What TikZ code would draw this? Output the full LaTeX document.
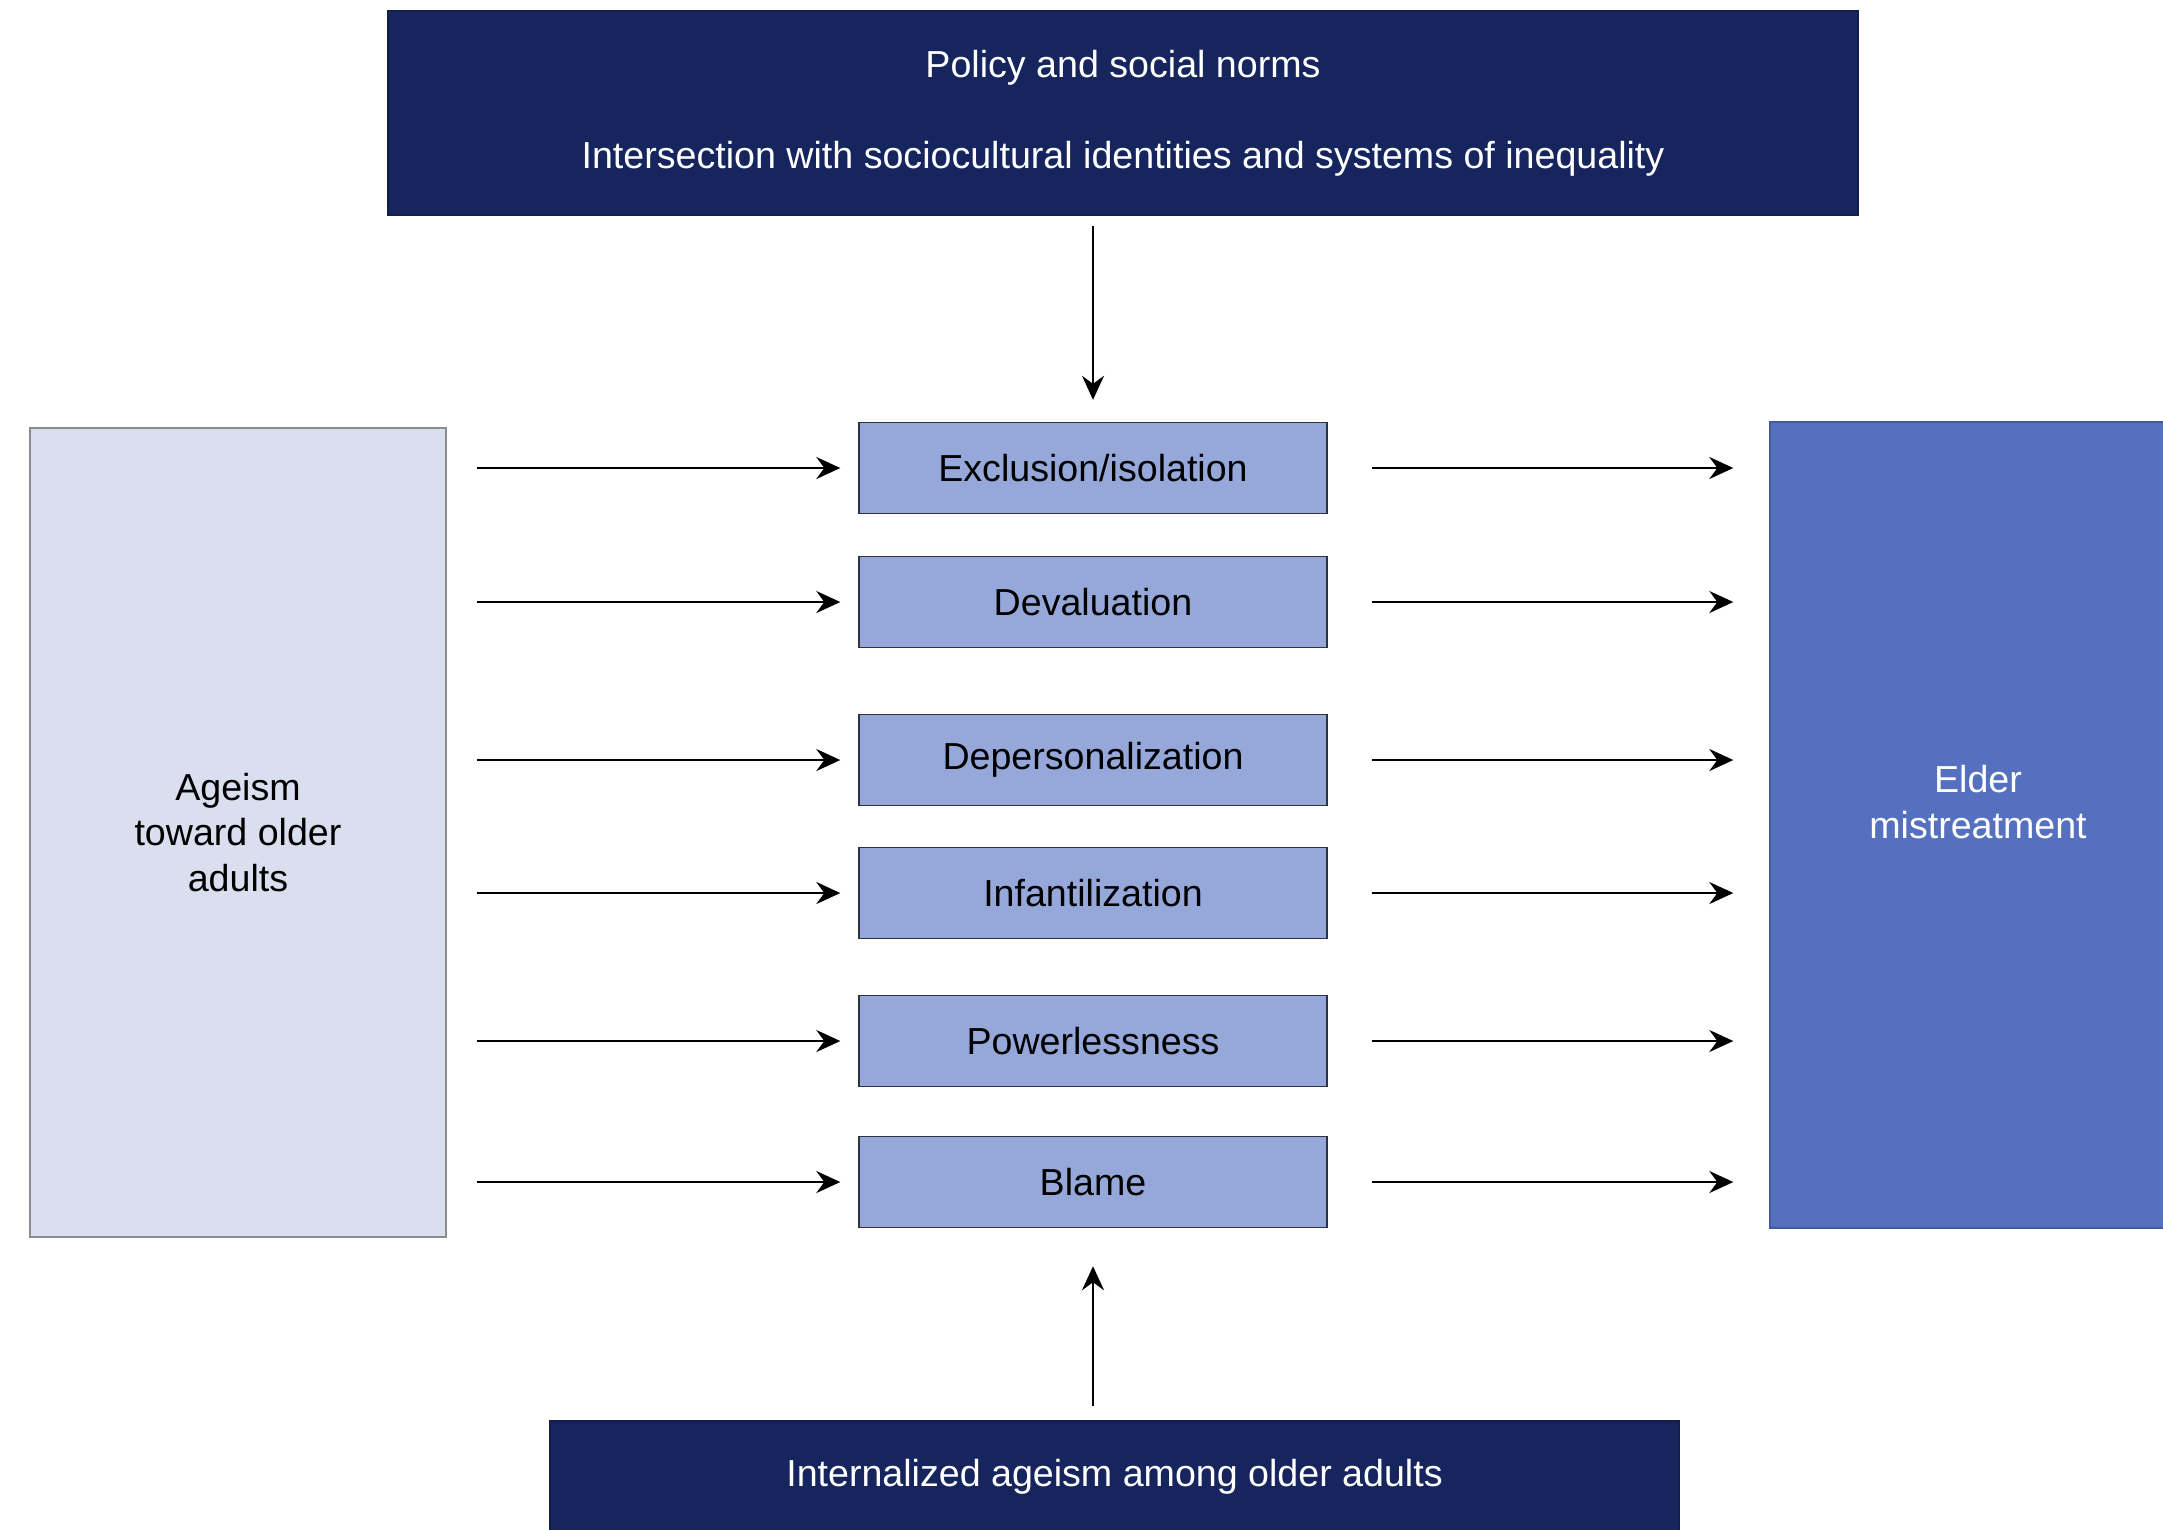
\documentclass[tikz,border=0pt]{standalone}
\usepackage{fontspec}
\setmainfont{Liberation Sans}
\usepackage{tikz}
\usetikzlibrary{positioning,calc,arrows.meta}

\definecolor{navy}{RGB}{23,37,94}
\definecolor{midblue}{RGB}{149,168,217}
\definecolor{deepblue}{RGB}{86,112,192}
\definecolor{paleblue}{RGB}{217,223,239}

\tikzset{
  darkbox/.style={draw=navy!80!black, fill=navy, text=white, inner sep=0pt},
  midbox/.style={draw=black!70!midblue, fill=midblue, minimum width=4.68cm,
    minimum height=0.91cm, inner sep=0pt},
  arr/.style={line width=0.75pt, -{Stealth[length=2.4mm,width=2.2mm,inset=0.8mm]}}
}

\begin{document}
\begin{tikzpicture}[font=\fontsize{10.7}{13}\selectfont]

\useasboundingbox (0,0) rectangle (21.63,-15.29);
\fill[white] (0,0) rectangle (21.63,-15.29);

% top and bottom bars
\node[darkbox, minimum width=14.70cm, minimum height=2.04cm, align=center]
  (policy) at (11.23,-1.13)
  {Policy and social norms\\[0.45cm]Intersection with sociocultural identities and systems of inequality};
\node[darkbox, minimum width=11.29cm, minimum height=1.12cm]
  (internal) at (11.145,-14.77) {Internalized ageism among older adults};

% side boxes
\node[draw=black!45, fill=paleblue, minimum width=4.16cm, minimum height=8.09cm,
  inner sep=0pt, align=center] (ageism) at (2.38,-8.325)
  {Ageism\\toward older\\adults};
\node[draw=deepblue!80!black, fill=deepblue, minimum width=4.20cm, minimum height=8.06cm,
  inner sep=0pt] (elder) at (19.80,-8.25) {};
\node[text=white, align=center] (eldertxt) at (19.78,-8.02) {Elder\\mistreatment};

% middle column
\node[midbox] (excl)  at (10.93,-4.68)  {Exclusion/isolation};
\node[midbox] (deval) at (10.93,-6.02)  {Devaluation};
\node[midbox] (depers) at (10.93,-7.60) {Depersonalization};
\node[midbox] (infant) at (10.93,-8.93) {Infantilization};
\node[midbox] (power) at (10.93,-10.41) {Powerlessness};
\node[midbox] (blame) at (10.93,-11.82) {Blame};

% arrows in and out
\foreach \n in {excl,deval,depers,infant,power,blame}{
  \draw[arr, shorten <=0.30cm, shorten >=0.18cm] (ageism.east |- \n.west) -- (\n.west);
  \draw[arr, shorten <=0.44cm, shorten >=0.36cm] (\n.east) -- (elder.west |- \n.east);
}

\draw[arr, shorten <=0.10cm, shorten >=0.22cm] (policy.south -| excl.north) -- (excl.north);
\draw[arr, shorten <=0.14cm, shorten >=0.38cm] (internal.north -| blame.south) -- (blame.south);

\end{tikzpicture}
\end{document}
